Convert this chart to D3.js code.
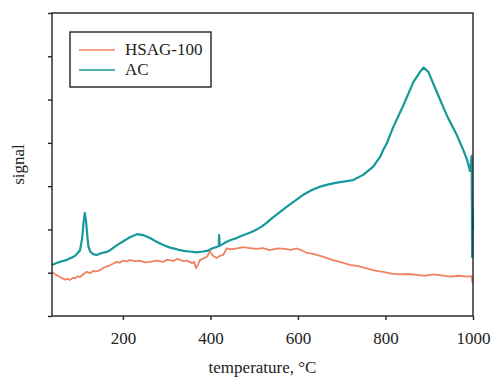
<!DOCTYPE html>
<html lang="en">
<head>
  <meta charset="UTF-8">
  <title>TPD signal</title>
  <script src="https://d3js.org/d3.v7.min.js"></script>
  <style>
    body { margin: 0; background: #fff; font-family: "Liberation Serif", "Times New Roman", serif; }
    .axis path, .axis line { stroke: #222; stroke-width: 1.4; }
    .axis text { font-family: "Liberation Serif", serif; font-size: 17px; fill: #222; }
  </style>
</head>
<body>
<svg width="492" height="379"></svg>

<script>
  // temperature (°C) and signal readings taken off the figure
  const hsagT = [38, 47, 56, 62, 68, 74, 79, 85, 91, 97, 102, 110, 117, 125, 132, 140, 148, 157, 166, 176, 186, 193, 200, 208, 216, 228, 239, 250, 262, 277, 292, 300, 308, 316, 323, 330, 337, 345, 353, 358, 363, 367, 372, 376, 384, 392, 399, 406, 414, 422, 429, 437, 448, 460, 475, 490, 505, 520, 536, 553, 570, 584, 597, 608, 620, 632, 643, 660, 680, 700, 719, 738, 757, 776, 795, 814, 833, 852, 871, 890, 909, 928, 948, 967, 986, 997, 999];
  const hsagV = [1.02, 0.95, 0.90, 0.87, 0.84, 0.86, 0.83, 0.88, 0.87, 0.92, 0.90, 0.97, 1.02, 0.99, 1.04, 1.03, 1.06, 1.12, 1.15, 1.20, 1.25, 1.23, 1.28, 1.26, 1.29, 1.27, 1.28, 1.24, 1.25, 1.28, 1.25, 1.30, 1.29, 1.27, 1.32, 1.30, 1.27, 1.28, 1.25, 1.22, 1.25, 1.10, 1.20, 1.29, 1.33, 1.37, 1.49, 1.39, 1.34, 1.39, 1.41, 1.56, 1.54, 1.56, 1.59, 1.57, 1.55, 1.57, 1.52, 1.56, 1.55, 1.53, 1.56, 1.52, 1.46, 1.44, 1.41, 1.36, 1.29, 1.24, 1.18, 1.15, 1.10, 1.05, 1.02, 0.98, 0.96, 0.97, 0.95, 0.93, 0.96, 0.94, 0.91, 0.93, 0.91, 0.92, 0.76];

  const acT = [38, 47, 56, 63, 70, 78, 86, 92, 97, 102, 107, 110, 113, 116, 119, 121, 125, 132, 140, 147, 155, 163, 171, 184, 200, 216, 232, 246, 262, 278, 292, 308, 320, 331, 342, 353, 368, 383, 395, 406, 414, 419, 420, 421, 428, 436, 448, 460, 470, 481, 494, 506, 516, 527, 536, 555, 574, 593, 612, 632, 651, 670, 689, 708, 726, 749, 772, 788, 795, 803, 818, 841, 864, 879, 887, 898, 917, 940, 963, 978, 986, 993, 997, 998, 999, 1000];
  const acV = [1.18, 1.22, 1.25, 1.27, 1.29, 1.33, 1.36, 1.40, 1.46, 1.52, 1.80, 2.15, 2.38, 2.17, 1.82, 1.62, 1.49, 1.43, 1.41, 1.44, 1.46, 1.48, 1.52, 1.62, 1.72, 1.82, 1.89, 1.87, 1.80, 1.71, 1.64, 1.58, 1.55, 1.52, 1.50, 1.49, 1.47, 1.49, 1.51, 1.57, 1.59, 1.62, 1.87, 1.62, 1.66, 1.71, 1.76, 1.80, 1.85, 1.89, 1.94, 2.00, 2.06, 2.14, 2.22, 2.37, 2.52, 2.66, 2.80, 2.91, 2.99, 3.04, 3.08, 3.11, 3.14, 3.26, 3.45, 3.68, 3.84, 3.99, 4.37, 4.87, 5.41, 5.64, 5.74, 5.64, 5.18, 4.64, 4.18, 3.83, 3.62, 3.35, 3.70, 1.36, 2.50, 2.00];

  const xTicks = [200, 400, 600, 800, 1000];
  const yTicks = [0, 1, 2, 3, 4, 5, 6, 7];

  const series = [
    { name: "HSAG-100", color: "#f0835f", width: 1.8, t: hsagT, v: hsagV },
    { name: "AC", color: "#16999a", width: 2.2, t: acT, v: acV }
  ];

  const svg = d3.select("svg"),
        margin = {top: 13, right: 19, bottom: 63, left: 52},
        width = +svg.attr("width") - margin.left - margin.right,
        height = +svg.attr("height") - margin.top - margin.bottom,
        g = svg.append("g").attr("transform", `translate(${margin.left},${margin.top})`);

  const x = d3.scaleLinear().domain([38, 1000]).range([0, width]);
  const y = d3.scaleLinear().domain([0, 7]).range([height, 0]);

  // curves
  const line = d3.line().x(d => x(d[0])).y(d => y(d[1]));
  g.selectAll(".curve")
    .data(series)
    .join("path")
      .attr("class", "curve")
      .attr("fill", "none")
      .attr("stroke", d => d.color)
      .attr("stroke-width", d => d.width)
      .attr("stroke-linejoin", "round")
      .attr("d", d => line(d.t.map((t, i) => [t, d.v[i]])));

  // frame
  g.append("rect")
    .attr("width", width).attr("height", height)
    .attr("fill", "none").attr("stroke", "#222").attr("stroke-width", 1.4);

  // y-axis (no readable labels on the original)
  g.append("g")
    .attr("class", "axis")
    .call(d3.axisLeft(y).tickValues(yTicks).tickSize(4).tickFormat(""))
    .call(a => a.select(".domain").remove());

  // x-axis
  g.append("g")
    .attr("class", "axis")
    .attr("transform", `translate(0,${height})`)
    .call(d3.axisBottom(x).tickValues(xTicks).tickSize(4).tickPadding(12).tickFormat(d3.format("d")))
    .call(a => a.select(".domain").remove());

  // axis titles
  svg.append("text")
    .attr("x", margin.left + width / 2).attr("y", 373)
    .attr("text-anchor", "middle")
    .style("font-size", "17px").attr("fill", "#222")
    .text("temperature, °C");

  svg.append("text")
    .attr("transform", `translate(24,${margin.top + height / 2}) rotate(-90)`)
    .attr("text-anchor", "middle")
    .style("font-size", "17px").attr("fill", "#222")
    .text("signal");

  // legend
  const lg = svg.append("g").attr("transform", "translate(70,32)");
  lg.append("rect")
    .attr("width", 141).attr("height", 55)
    .attr("fill", "#fff").attr("stroke", "#222").attr("stroke-width", 1.4);
  const items = lg.selectAll(".item")
    .data(series)
    .join("g")
      .attr("class", "item")
      .attr("transform", (d, i) => `translate(0,${18 + i * 20})`);
  items.append("line")
    .attr("x1", 9).attr("x2", 45)
    .attr("stroke", d => d.color).attr("stroke-width", 1.5);
  items.append("text")
    .attr("x", 55).attr("y", 5)
    .style("font-size", "17px").attr("fill", "#222")
    .text(d => d.name);
</script>
</body>
</html>
